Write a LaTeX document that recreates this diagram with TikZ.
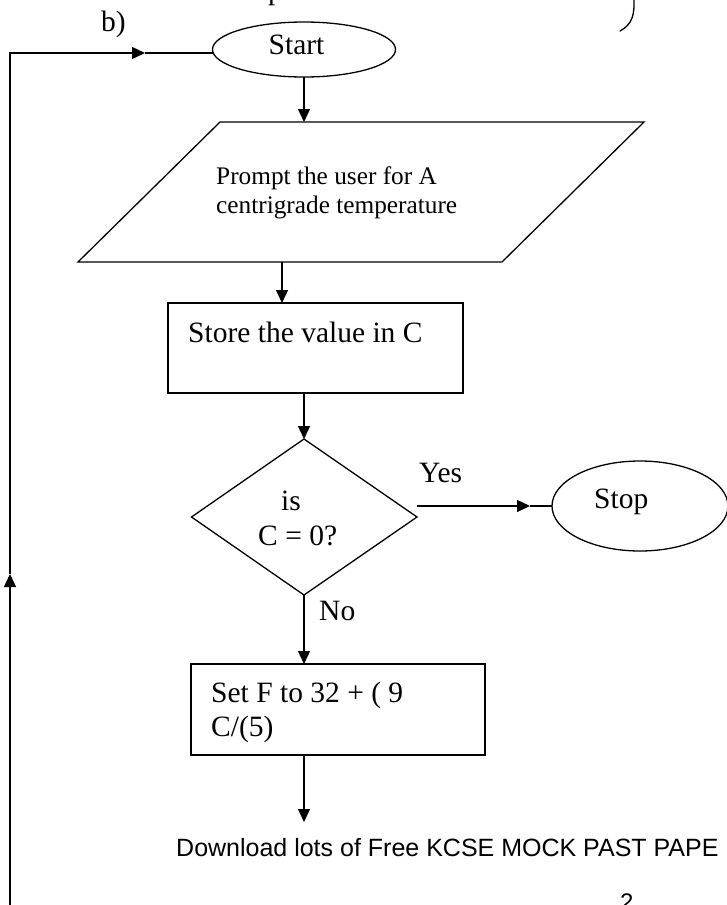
\documentclass[tikz,border=0pt]{standalone}
\usepackage{fontspec}
\setmainfont{Liberation Serif}
\newfontfamily\sansf{Liberation Sans}
\usetikzlibrary{arrows.meta,shapes.geometric}
\begin{document}
\begin{tikzpicture}[x=1pt,y=-1pt,
  ln/.style={line width=1.3pt},
  arr/.style={ln,-{Triangle[length=13pt,width=12pt]}},
  shapebox/.style={draw,ln,inner sep=0pt,outer sep=0pt},
  txt/.style={anchor=base west,inner sep=0pt,font=\fontsize{29.5}{34}\selectfont},
  smalltxt/.style={anchor=base west,inner sep=0pt,font=\fontsize{25.3}{29}\selectfont},
  sanstxt/.style={anchor=base west,inner sep=0pt,font=\sansf\fontsize{25}{29}\selectfont}
]
\useasboundingbox (0,0) rectangle (726,905);

% shapes
\node[shapebox,ellipse,minimum width=183pt,minimum height=55pt] (start) at (304,49.5) {};
\coordinate (pTL) at (220,122);
\coordinate (pTR) at (644,122);
\coordinate (pBR) at (502,262);
\coordinate (pBL) at (78,262);
\draw[ln,line join=miter] (pTL) -- (pTR) -- (pBR) -- (pBL) -- cycle;
\coordinate (paraIn) at (304,122);
\coordinate (paraOut) at (282,262);
\node[shapebox,rectangle,minimum width=295pt,minimum height=90pt] (store) at (315.5,348) {};
\coordinate (dT) at (304,439);
\coordinate (dR) at (417,517);
\coordinate (dB) at (304,595);
\coordinate (dL) at (191.5,517);
\draw[ln,line join=miter] (dT) -- (dR) -- (dB) -- (dL) -- cycle;
\node[shapebox,rectangle,minimum width=294pt,minimum height=91pt] (setf) at (338,709.5) {};
\node[shapebox,ellipse,minimum width=176pt,minimum height=90pt] (stop) at (640,506) {};

% bracket fragment at the top right
\draw[ln,line cap=round] (634,-2) .. controls (634.5,14) and (633,24) .. (620,31);

% texts
\node[txt] (tb) at (101,31) {b)};
\node[txt] (tp) at (268,-1) {p};
\node[txt] (tstart) at (268.5,54) {Start};
\node[smalltxt] (tprompt1) at (216,184) {Prompt the user for A};
\node[smalltxt] (tprompt2) at (216,213) {centrigrade temperature};
\node[txt] (tstore) at (188,342) {Store the value in C};
\node[txt] (tis) at (281,510) {is};
\node[txt] (tcond) at (258,545) {C = 0?};
\node[txt] (tyes) at (419,482) {Yes};
\node[txt] (tno) at (319,620) {No};
\node[txt] (tstop) at (594,508) {Stop};
\node[txt] (tset1) at (211,702) {Set F to 32 + ( 9};
\node[txt] (tset2) at (211,736) {C/(5)};
\node[sanstxt] (tdl) at (176,856) {Download lots of Free KCSE MOCK PAST PAPE};
\node[anchor=base west,inner sep=0pt,font=\sansf\fontsize{24}{28}\selectfont] (tnum) at (620,910) {2};

% connectors
\coordinate (loopBot) at (10,912);
\coordinate (loopUpTip) at (10,574);
\coordinate (loopCorner) at (10,53);
\coordinate (loopRightTip) at (145,53);
\draw[arr] (loopBot) -- (loopUpTip);
\draw[arr,line join=miter] (loopUpTip) -- (loopCorner) -- (loopRightTip);
\draw[ln] (loopRightTip) -- (loopRightTip -| start.west);

\draw[arr] (start.south) -- (paraIn);
\draw[arr] (paraOut) -- (paraOut |- store.north);
\draw[arr] (store.south -| dT) -- (dT);
\draw[arr] (dB) -- (dB |- setf.north);
\coordinate (endTip) at (304,822);
\draw[arr] (setf.south -| endTip) -- (endTip);

\coordinate (yesStart) at (417,506);
\coordinate (yesTip) at (530,506);
\draw[arr] (yesStart) -- (yesTip);
\draw[ln] (yesTip) -- (stop.west);
\end{tikzpicture}
\end{document}
